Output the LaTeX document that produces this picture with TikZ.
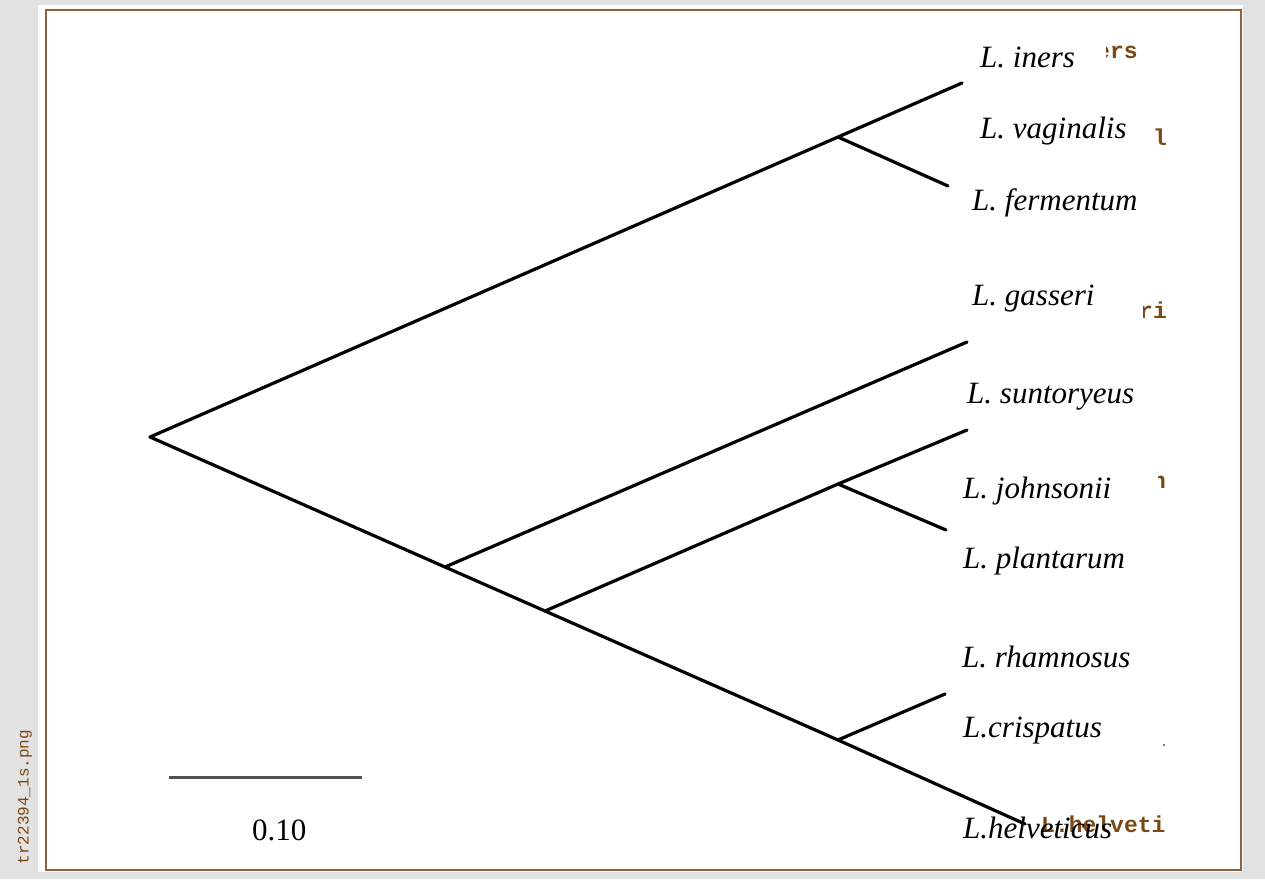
\documentclass[tikz,border=0pt]{standalone}
\usepackage{fontspec}
\setmainfont{Liberation Serif}
\newfontfamily\fragfont{Liberation Mono}
\definecolor{bgray}{RGB}{226,226,226}
\definecolor{brn}{RGB}{139,98,62}
\definecolor{fragc}{RGB}{122,72,22}
\definecolor{barc}{RGB}{80,80,80}
\begin{document}
\begin{tikzpicture}[x=1pt,y=-1pt,
  branch/.style={line width=3.2pt, black, line cap=round},
  lab/.style={anchor=base west, inner sep=0pt, font=\fontsize{31}{31}\selectfont\itshape},
  frag/.style={anchor=base west, inner sep=0pt, text=fragc, font=\fontsize{23}{23}\selectfont\fragfont\bfseries}]
\useasboundingbox (0,0) rectangle (1265,879);
% background and panel
\fill[bgray] (0,0) rectangle (1265,879);
\fill[white] (38,5) rectangle (1243,872);
\draw[brn, line width=2.5pt] (46,10) rectangle (1241,870);
\node[rotate=90, inner sep=0pt, text=fragc, font=\fontsize{16}{16}\selectfont\fragfont] (fname) at (25,797) {tr22394\_1s.png};
% tree coordinates
\coordinate (root) at (150,437);
\coordinate (nA) at (838,137);
\coordinate (nB) at (445,567);
\coordinate (nC) at (545,611);
\coordinate (nD) at (838,740);
\coordinate (nE) at (838,484);
\coordinate (tIners) at (962,83);
\coordinate (tFerm) at (948,186);
\coordinate (tGass) at (967,342);
\coordinate (tJohn) at (967,430);
\coordinate (tPlan) at (946,530);
\coordinate (tRham) at (945,694);
\coordinate (tHelv) at (1025,824);
% branches
\draw[branch] (root) -- (nA) -- (tIners);
\draw[branch] (nA) -- (tFerm);
\draw[branch] (root) -- (nB) -- (nC) -- (nD) -- (tHelv);
\draw[branch] (nB) -- (tGass);
\draw[branch] (nC) -- (nE) -- (tJohn);
\draw[branch] (nE) -- (tPlan);
\draw[branch] (nD) -- (tRham);
% original label fragments
\begin{scope}
  \clip (1106,35) rectangle (1150,70);
  \node[frag] (fIners) at (1096,58) {ers};
\end{scope}
\node[frag] (fVag) at (1153,145) {l};
\begin{scope}
  \clip (1143,290) rectangle (1180,325);
  \node[frag] (fGass) at (1139,318) {ri};
\end{scope}
\begin{scope}
  \clip (1158,470) rectangle (1180,495);
  \node[frag] (fJohn) at (1152,488) {n};
\end{scope}
\fill[fragc] (1164,745) circle (1.2);
\node[frag] (fHelv) at (1041,832) {L.helveti};
% labels
\node[lab] (lIners) at (980,67) {L. iners};
\node[lab] (lVag) at (980,138) {L. vaginalis};
\node[lab] (lFerm) at (972,210) {L. fermentum};
\node[lab] (lGass) at (972,305) {L. gasseri};
\node[lab] (lSunt) at (967,403) {L. suntoryeus};
\node[lab] (lJohn) at (963,498) {L. johnsonii};
\node[lab] (lPlan) at (963,568) {L. plantarum};
\node[lab] (lRham) at (962,667) {L. rhamnosus};
\node[lab] (lCris) at (963,737) {L.crispatus};
\node[lab] (lHelv) at (963,838) {L.helveticus};
% scale bar
\coordinate (sbL) at (169,777);
\coordinate (sbR) at (362,777);
\draw[barc, line width=3pt] (sbL) -- (sbR);
\node[anchor=base west, inner sep=0pt, font=\fontsize{31}{31}\selectfont] (sbLab) at (252,840) {0.10};
\end{tikzpicture}
\end{document}
